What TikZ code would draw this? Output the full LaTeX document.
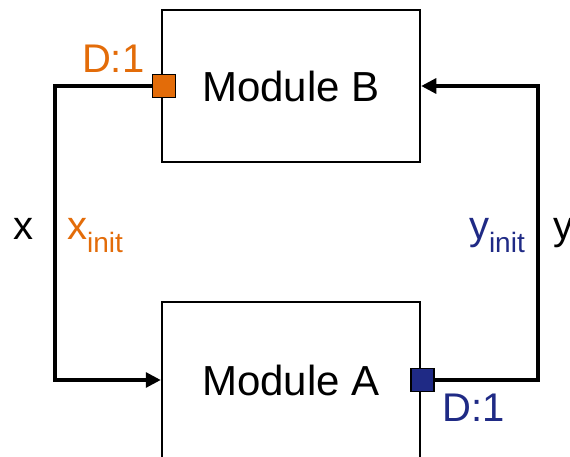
\documentclass[tikz,border=0pt]{standalone}
\usepackage{fontspec}
\setmainfont{Liberation Sans}
\definecolor{dorange}{HTML}{E36C09}
\definecolor{dblue}{HTML}{1F2A85}
\usetikzlibrary{positioning,arrows.meta}
\newcommand{\subinit}{\raisebox{-13pt}{\fontsize{28}{28}\selectfont init}}
\begin{document}
\begin{tikzpicture}[x=1pt,y=1pt,
  module/.style={draw,line width=2.5pt,minimum width=258pt,minimum height=152pt,
                 font=\fontsize{42}{42}\selectfont},
  delay/.style={draw,line width=1.5pt,minimum size=23pt,inner sep=0pt},
  wire/.style={line width=3.2pt,-{Triangle[length=15pt,width=15pt]}},
  lbl/.style={inner sep=0pt,font=\fontsize{40}{40}\selectfont}
]
  \useasboundingbox (0,0) rectangle (570,456);
  \node[module] (modB) at (291,370) {Module B};
  \node[module,minimum height=156pt] (modA) at (291,76) {Module A};
  \node[delay,fill=dorange,xshift=3pt] (dB) at (modB.west) {};
  \node[delay,fill=dblue,xshift=1pt] (dA) at (modA.east) {};
  \coordinate (lx) at (55,217);
  \coordinate (rx) at (538,217);
  \draw[wire] (dB.west) -| (lx) |- (modA.west);
  \draw[wire] (dA.east) -| (rx) |- (modB.east);
  \node[lbl,anchor=base east,xshift=-21pt] (xlbl) at (lx) {x};
  \node[lbl,anchor=base west,xshift=12pt,text=dorange] (xinit) at (lx) {x\subinit};
  \node[lbl,anchor=base east,xshift=-13pt,text=dblue] (yinit) at (rx) {y\subinit};
  \node[lbl,anchor=base west,xshift=15pt] (ylbl) at (rx) {y};
  \node[lbl,anchor=base east,text=dorange] (dBlbl) at ([xshift=-7pt,yshift=1pt]dB.north west) {D:1};
  \node[lbl,anchor=base west,text=dblue] (dAlbl) at ([xshift=8pt,yshift=-29.6pt]dA.south east) {D:1};
\end{tikzpicture}
\end{document}
